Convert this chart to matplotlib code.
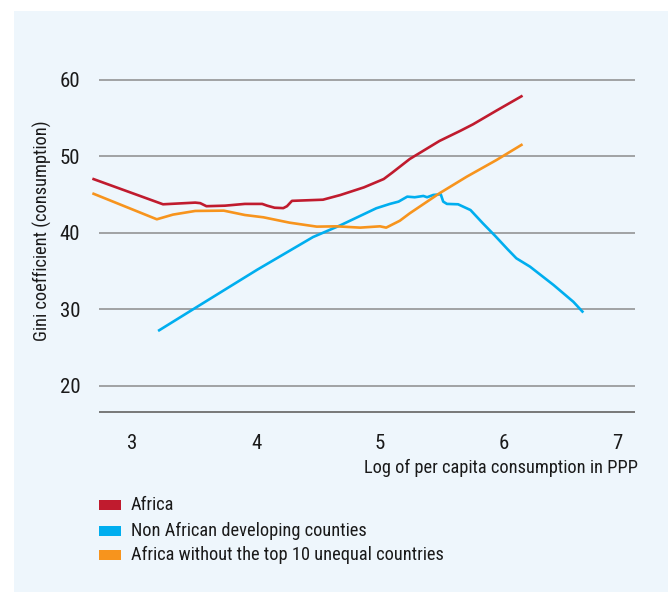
import matplotlib
matplotlib.use("Agg")
import matplotlib.pyplot as plt
from matplotlib.patches import Rectangle

plt.rcParams['font.family'] = ['Liberation Sans Narrow', 'Roboto Condensed',
                               'DejaVu Sans Condensed', 'DejaVu Sans']

# series (x = log of per capita consumption, y = Gini)
africa_x = [2.68, 3.25, 3.51, 3.55, 3.60, 3.75, 3.91, 4.05, 4.09, 4.15, 4.22,
            4.25, 4.29, 4.54, 4.68, 4.87, 5.03, 5.10, 5.24, 5.48, 5.65, 5.75,
            5.94, 6.15]
africa_y = [47.1, 43.75, 43.97, 43.9, 43.5, 43.57, 43.8, 43.8, 43.57, 43.3, 43.25,
            43.5, 44.2, 44.35, 44.96, 45.96, 47.05, 47.9, 49.67, 52.03, 53.37, 54.2,
            56.0, 57.95]

non_african_x = [3.21, 3.52, 4.01, 4.46, 4.68, 4.97, 5.08, 5.15, 5.22, 5.28, 5.35,
                 5.38, 5.43, 5.49, 5.51, 5.54, 5.63, 5.73, 5.83, 5.93, 6.03, 6.10,
                 6.21, 6.40, 6.56, 6.64]
non_african_y = [27.19, 30.3, 35.2, 39.47, 41.0, 43.23, 43.8, 44.1, 44.75, 44.67, 44.84,
                 44.67, 44.97, 45.06, 44.1, 43.8, 43.75, 43.0, 41.26, 39.6, 37.86, 36.69,
                 35.6, 33.2, 31.0, 29.6]

africa_wo_top10_x = [2.68, 3.20, 3.33, 3.51, 3.74, 3.91, 4.06, 4.27, 4.49, 4.65,
                     4.84, 5.0, 5.05, 5.16, 5.24, 5.48, 5.70, 5.94, 6.15]
africa_wo_top10_y = [45.19, 41.79, 42.4, 42.88, 42.92, 42.35, 42.05, 41.35, 40.83, 40.87,
                     40.7, 40.87, 40.7, 41.6, 42.57, 45.19, 47.36, 49.54, 51.6]

series_names = ["Africa", "Non African developing counties",
                "Africa without the top 10 unequal countries"]
series_colors = ["#C01B2E", "#00AEEF", "#F7941D"]

y_ticks = [20, 30, 40, 50, 60]
x_ticks = [3, 4, 5, 6, 6.91]   # the "7" label sits a little left of 7 in the original
x_tick_labels = ["3", "4", "5", "6", "7"]

W, H = 668, 595
fig = plt.figure(figsize=(W / 100, H / 100), dpi=100)
fig.patch.set_facecolor("white")

# light blue panel behind everything
fig.patches.append(Rectangle((14 / W, 1 - 592 / H), 1 - 14 / W, (592 - 11) / H,
                             transform=fig.transFigure, facecolor="#EEF6FC",
                             edgecolor="none", zorder=-5))

ax = fig.add_axes([90 / W, 1 - 412 / H, (636 - 90) / W, (412 - 75) / H])
ax.set_facecolor("none")
ax.set_xlim(2.661, 7.065)
ax.set_ylim(16.6, 60.65)
for s in ax.spines.values():
    s.set_visible(False)

# gridlines start a bit right of where the curves begin
ax.hlines(y_ticks, 2.734, 7.056, color="#8C8C8C", linewidth=1.1, zorder=1)
ax.hlines([16.6], 2.734, 7.056, color="#6E6E6E", linewidth=1.3, zorder=1, clip_on=False)

data = [(africa_x, africa_y), (non_african_x, non_african_y),
        (africa_wo_top10_x, africa_wo_top10_y)]
for (xs, ys), c in zip(data, series_colors):
    ax.plot(xs, ys, color=c, linewidth=1.9, solid_capstyle="butt", zorder=3)

ax.set_yticks(y_ticks)
ax.set_yticklabels([str(t) for t in y_ticks])
ax.set_xticks(x_ticks)
ax.set_xticklabels(x_tick_labels)
ax.tick_params(axis="y", length=0, pad=7, labelsize=15, labelcolor="#1a1a1a")
ax.tick_params(axis="x", length=0, pad=16, labelsize=15, labelcolor="#1a1a1a")

fig.text(42 / W, 1 - 231 / H, "Gini coefficient (consumption)", rotation=90,
         ha="center", va="center", fontsize=13.2, color="#1a1a1a")
fig.text(638 / W, 1 - 468 / H, "Log of per capita consumption in PPP",
         ha="right", va="center", fontsize=13.2, color="#1a1a1a")

# legend
rows = [505, 530.5, 555]
for name, c, yc in zip(series_names, series_colors, rows):
    fig.patches.append(Rectangle((99 / W, 1 - (yc + 5) / H), 22 / W, 10 / H,
                                 transform=fig.transFigure, facecolor=c,
                                 edgecolor="none", zorder=2))
    fig.text(131 / W, 1 - yc / H, name, ha="left", va="center",
             fontsize=13.2, color="#1a1a1a")

fig.savefig("out.png", dpi=100, facecolor=fig.get_facecolor())
